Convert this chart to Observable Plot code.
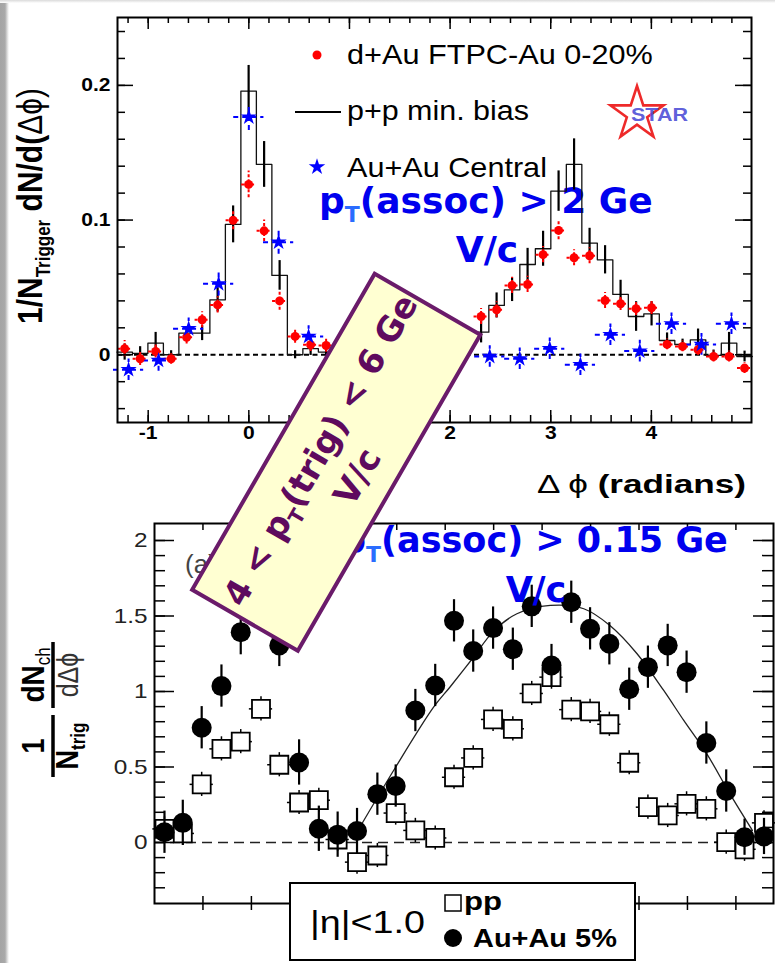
<!DOCTYPE html>
<html>
<head>
<meta charset="utf-8">
<script src="https://cdn.jsdelivr.net/npm/d3@7"></script>
<script src="https://cdn.jsdelivr.net/npm/@observablehq/plot@0.6"></script>
<style>
  html, body { margin: 0; padding: 0; background: #fff; overflow: hidden; }
  #page { position: relative; width: 775px; height: 963px; background: #fff; overflow: hidden; }
  #page > svg { position: absolute; left: 0; }
  .edge-left { position: absolute; left: 0; top: 0; width: 9px; height: 963px;
    background: linear-gradient(to right, #a4a4a4 0, #a9a9a9 5px, #d6d6d6 7px, #ffffff 9px); }
  .edge-top { position: absolute; left: 0; top: 0; width: 775px; height: 3px;
    background: linear-gradient(to bottom, #dadada, #ffffff); }
</style>
</head>
<body>
<div id="page"></div>
<script>
// ===== Upper panel: 4 < pT(trig) < 6 GeV/c, pT(assoc) > 2 GeV/c =====
// d+Au FTPC-Au 0-20% (red points)
const dAuPhi = [-1.234, -1.080, -0.926, -0.772, -0.618, -0.464, -0.310, -0.156, -0.002, 0.152, 0.306, 0.460, 0.614, 0.768,
  2.308, 2.462, 2.616, 2.770, 2.924, 3.078, 3.232, 3.386, 3.540, 3.694, 3.848, 4.002, 4.156, 4.310, 4.464, 4.618, 4.772, 4.926];
const dAuYield = [0.0045, -0.003, 0.0025, -0.003, 0.013, 0.026, 0.037, 0.0998, 0.1265, 0.092, 0.040, 0.0136, 0.0074, 0.0069,
  0.0284, 0.0334, 0.0515, 0.0522, 0.0743, 0.0923, 0.072, 0.0735, 0.0403, 0.0379, 0.0342, 0.0349, 0.0077, 0.0062, 0.0037, -0.0013, -0.0013, -0.0099];
const dAuErr = [0.006, 0.005, 0.005, 0.004, 0.005, 0.006, 0.006, 0.007, 0.010, 0.008, 0.007, 0.005, 0.005, 0.005,
  0.006, 0.006, 0.006, 0.006, 0.006, 0.007, 0.006, 0.006, 0.006, 0.005, 0.005, 0.005, 0.004, 0.004, 0.004, 0.004, 0.004, 0.004];

// Au+Au central (blue stars)
const auauPhi = [-1.195, -0.897, -0.598, -0.300, 0.000, 0.296, 0.594, 2.394, 2.692, 2.990, 3.295, 3.593, 3.885, 4.200, 4.498, 4.796];
const auauYield = [-0.0111, -0.0042, 0.0193, 0.0527, 0.1765, 0.0836, 0.0136, -0.0013, -0.003, 0.0045, -0.0074, 0.0149, 0.0027, 0.023, 0.0077, 0.023];
const auauErr = [0.008, 0.008, 0.008, 0.009, 0.010, 0.009, 0.008, 0.008, 0.008, 0.008, 0.008, 0.008, 0.008, 0.008, 0.008, 0.008];

// p+p min. bias histogram (bin edges, contents, errors) near side and away side
const ppNearEdges = [-1.311, -1.157, -1.003, -0.849, -0.695, -0.541, -0.387, -0.233, -0.079, 0.075, 0.229, 0.383, 0.537, 0.691, 0.845];
const ppNearLevels = [0.002, 0.001, 0.0086, 0.0, 0.016, 0.016, 0.0408, 0.0968, 0.1958, 0.1413, 0.0589, 0.0, 0.0045, 0.002];
const ppNearErr = [0.006, 0.005, 0.008, 0.003, 0.005, 0.0055, 0.009, 0.0137, 0.019, 0.017, 0.011, 0.003, 0.005, 0.004];
const ppAwayEdges = [2.231, 2.385, 2.539, 2.693, 2.847, 3.001, 3.155, 3.309, 3.463, 3.617, 3.771, 3.925, 4.079, 4.233, 4.387, 4.541, 4.695, 4.849, 5.003];
const ppAwayLevels = [0.0168, 0.0366, 0.0482, 0.067, 0.0787, 0.1215, 0.1413, 0.0829, 0.0705, 0.0448, 0.0284, 0.0304, 0.0106, 0.0076, 0.0111, -0.0005, 0.0086, -0.0013];
const ppAwayErr = [0.008, 0.0093, 0.0087, 0.012, 0.013, 0.015, 0.019, 0.011, 0.0105, 0.0105, 0.011, 0.009, 0.0056, 0.004, 0.008, 0.004, 0.008, 0.004];

const topXTicks = [-1, 0, 1, 2, 3, 4];
const topXTickLabels = ["-1", "0", "1", "2", "3", "4"];
const topYTicks = [0, 0.1, 0.2];
const topYTickLabels = ["0", "0.1", "0.2"];

// ===== Lower panel: pT(assoc) > 0.15 GeV/c, |eta| < 1.0 =====
const aaPhi = [-0.897, -0.708, -0.513, -0.309, -0.110, 0.288, 0.492, 0.696, 0.890, 1.090, 1.300, 1.489, 1.692, 1.897, 2.091, 2.289,
  2.494, 2.698, 2.893, 3.097, 3.301, 3.495, 3.694, 3.899, 4.092, 4.296, 4.491, 4.695, 4.900, 5.089, 5.290];
const aaYield = [0.068, 0.130, 0.760, 1.036, 1.393, 1.305, 0.530, 0.091, 0.052, 0.076, 0.320, 0.374, 0.874, 1.040, 1.468, 1.268,
  1.420, 1.280, 1.564, 1.172, 1.591, 1.415, 1.316, 1.015, 1.161, 1.305, 1.128, 0.659, 0.341, 0.035, 0.040];
const aaErr = [0.14, 0.15, 0.14, 0.14, 0.15, 0.14, 0.15, 0.15, 0.15, 0.15, 0.14, 0.14, 0.14, 0.14, 0.14, 0.14,
  0.14, 0.14, 0.14, 0.14, 0.14, 0.14, 0.14, 0.14, 0.14, 0.14, 0.14, 0.14, 0.14, 0.12, 0.12];

const ppPhi = [-0.897, -0.708, -0.513, -0.309, -0.110, 0.099, 0.288, 0.492, 0.696, 0.890, 1.090, 1.300, 1.489, 1.692, 1.897, 2.091,
  2.289, 2.494, 2.698, 2.893, 3.097, 3.301, 3.495, 3.694, 3.899, 4.092, 4.296, 4.491, 4.695, 4.900, 5.089, 5.290];
const ppYield = [0.09, 0.06, 0.385, 0.62, 0.668, 0.885, 0.515, 0.265, 0.28, 0.02, -0.13, -0.086, 0.195, 0.08, 0.03, 0.432,
  0.56, 0.815, 0.753, 0.987, 1.095, 0.88, 0.868, 0.783, 0.528, 0.234, 0.179, 0.256, 0.223, 0.002, -0.045, 0.13];
const ppErrY = 0.08, ppErrX = 0.12;

// away-side fit curve
const fitPhi = [1.10, 1.48, 1.88, 2.05, 2.28, 2.50, 2.74, 3.085, 3.43, 3.70, 3.98, 4.255, 4.46, 4.70, 4.94, 5.17];
const fitYield = [0.08, 0.49, 0.896, 1.03, 1.217, 1.40, 1.515, 1.57, 1.548, 1.437, 1.25, 1.007, 0.81, 0.587, 0.32, 0.08];

const lowXTicks = [-0.5, 0, 0.5, 1, 1.5, 2, 2.5, 3, 3.5, 4, 4.5, 5];
const lowYTicks = [0, 0.5, 1, 1.5, 2];
const lowYTickLabels = ["0", "0.5", "1", "1.5", "2"];

// ===== helpers =====
const FONT = "'Liberation Sans', Arial, Helvetica, sans-serif";
const OVF = "'DejaVu Sans', 'Liberation Sans', sans-serif";

function stepPoints(edges, levels) {
  return edges.map((x, i) => ({x, y: levels[Math.min(i, levels.length - 1)]}));
}
function binCentres(edges, levels, errs) {
  return levels.map((y, i) => ({x: (edges[i] + edges[i + 1]) / 2, y, e: errs[i]}));
}
function ticksX(vals, len, side, FH, extra = {}) {
  return Plot.tickX(vals, {x: d => d, stroke: "#000", strokeWidth: 1.5,
    insetTop: side === "bottom" ? FH - len : 0, insetBottom: side === "top" ? FH - len : 0, ...extra});
}
function ticksY(vals, len, side, FW) {
  return Plot.tickY(vals, {y: d => d, stroke: "#000", strokeWidth: 1.5,
    insetRight: side === "left" ? FW - len : 0, insetLeft: side === "right" ? FW - len : 0});
}
// the whole figure is drawn a little wider than the font's natural proportions
function widenPlotText(svg, sx) {
  svg.querySelectorAll("text").forEach(t => {
    let tr = t.getAttribute("transform");
    if (!tr) {
      const x = +(t.getAttribute("x") || 0), y = +(t.getAttribute("y") || 0);
      t.removeAttribute("x"); t.removeAttribute("y");
      tr = `translate(${x},${y})`;
    }
    if (!/rotate/.test(tr)) t.setAttribute("transform", `${tr} scale(${sx},1)`);
  });
}
function fitWidth(sel, target) {
  const len = sel.node().getComputedTextLength();
  const x = +sel.attr("x"), y = +sel.attr("y");
  sel.attr("x", null).attr("y", null).attr("transform", `translate(${x},${y}) scale(${target / len},1)`);
}

const page = document.getElementById("page");

// ===== upper panel =====
const TW = 775, TH = 500, tm = {l: 117, r: 24, t: 17, b: 78};
const tFW = TW - tm.l - tm.r, tFH = TH - tm.t - tm.b;

const dAu = dAuPhi.map((x, i) => ({x, y: dAuYield[i], e: dAuErr[i]}));
const auau = auauPhi.map((x, i) => ({x, y: auauYield[i], e: auauErr[i]}));
const ppBins = [...binCentres(ppNearEdges, ppNearLevels, ppNearErr), ...binCentres(ppAwayEdges, ppAwayLevels, ppAwayErr)];

const topPlot = Plot.plot({
  width: TW, height: TH,
  marginLeft: tm.l, marginRight: tm.r, marginTop: tm.t, marginBottom: tm.b,
  x: {domain: [-1.305, 4.995], axis: null},
  y: {domain: [-0.0503, 0.2504], axis: null},
  style: {fontFamily: FONT, background: "transparent", overflow: "visible"},
  marks: [
    Plot.ruleY([0], {stroke: "#000", strokeWidth: 2, strokeDasharray: "5,3.5"}),
    Plot.line(stepPoints(ppNearEdges, ppNearLevels), {x: "x", y: "y", curve: "step-after", stroke: "#111", strokeWidth: 1.3}),
    Plot.line(stepPoints(ppAwayEdges, ppAwayLevels), {x: "x", y: "y", curve: "step-after", stroke: "#111", strokeWidth: 1.3}),
    Plot.ruleX(ppBins, {x: "x", y1: d => d.y - d.e, y2: d => d.y + d.e, stroke: "#000", strokeWidth: 2.2}),
    Plot.ruleX(dAu, {x: "x", y1: d => d.y - d.e, y2: d => d.y + d.e, stroke: "#f00", strokeWidth: 2, strokeDasharray: "3,2"}),
    Plot.ruleY(dAu, {y: "y", x1: d => d.x - 0.07, x2: d => d.x + 0.07, stroke: "#f00", strokeWidth: 2, strokeDasharray: "3,2"}),
    Plot.ruleX(auau, {x: "x", y1: d => d.y - d.e, y2: d => d.y + d.e, stroke: "#00f", strokeWidth: 2, strokeDasharray: "5,4"}),
    Plot.ruleY(auau, {y: "y", x1: d => d.x - 0.15, x2: d => d.x + 0.15, stroke: "#00f", strokeWidth: 2, strokeDasharray: "5,4"}),
    Plot.dot(dAu, {x: "x", y: "y", r: 4.5, fill: "#f00"}),
    Plot.dot(auau, {x: "x", y: "y", symbol: "star", r: 5.1, fill: "#00f"}),
    Plot.frame({stroke: "#000", strokeWidth: 2}),
    ticksX(topXTicks, 12, "bottom", tFH),
    ticksX(d3.range(-1.2, 4.9, 0.2), 7, "bottom", tFH),
    ticksX(topXTicks, 12, "top", tFH),
    ticksX(d3.range(-1.2, 4.9, 0.2), 6, "top", tFH),
    ticksY(topYTicks, 16, "left", tFW),
    ticksY(d3.range(-0.04, 0.25, 0.02), 8, "left", tFW),
    ticksY(topYTicks, 16, "right", tFW),
    ticksY(d3.range(-0.04, 0.25, 0.02), 8, "right", tFW),
    Plot.text(topXTicks, {x: d => d, text: (d, i) => topXTickLabels[i], frameAnchor: "bottom", dy: 16,
      fontSize: 18, fontWeight: "bold", fill: "#000"}),
    Plot.text(topYTicks, {y: d => d, text: (d, i) => topYTickLabels[i], frameAnchor: "left", dx: -7, textAnchor: "end",
      fontSize: 18, fontWeight: "bold", fill: "#000"})
  ]
});
widenPlotText(topPlot, 1.17);
topPlot.style.top = "0px";
page.appendChild(topPlot);

const ts = d3.select(topPlot);
// cut label drawn beneath the data marks
const cutTop = ts.insert("g", "g").attr("font-family", OVF).attr("font-weight", "bold").attr("fill", "#0000ee")
  .attr("text-anchor", "start");
const c1 = cutTop.append("text").attr("x", 319).attr("y", 213).attr("font-size", 36);
c1.append("tspan").text("p");
c1.append("tspan").attr("dy", 9).attr("font-size", 22).attr("fill", "#2a6cff").text("T");
c1.append("tspan").attr("dy", -9).text("(assoc) > 2 Ge");
cutTop.append("text").attr("x", 487).attr("y", 262).attr("text-anchor", "middle").attr("font-size", 36).text("V/c");

// legend
const lg = ts.append("g").attr("font-family", FONT).attr("font-size", 27).attr("fill", "#000").attr("text-anchor", "start");
lg.append("circle").attr("cx", 317).attr("cy", 55).attr("r", 4.5).attr("fill", "#f00");
const lt1 = lg.append("text").attr("x", 347).attr("y", 64).text("d+Au FTPC-Au 0-20%");
lg.append("line").attr("x1", 295).attr("x2", 341).attr("y1", 112).attr("y2", 112).attr("stroke", "#000").attr("stroke-width", 2);
const lt2 = lg.append("text").attr("x", 347).attr("y", 120).text("p+p min. bias");
lg.append("path").attr("d", d3.symbol(d3.symbolStar, 85)()).attr("transform", "translate(317,167)").attr("fill", "#00f");
const lt3 = lg.append("text").attr("x", 347).attr("y", 177).text("Au+Au Central");
fitWidth(lt1, 306); fitWidth(lt2, 182); fitWidth(lt3, 200);

// STAR logo
ts.append("path").attr("d", d3.symbol(d3.symbolStar, 880)()).attr("transform", "translate(637,114)")
  .attr("fill", "none").attr("stroke", "#ee2a2a").attr("stroke-width", 2.6).attr("stroke-linejoin", "miter");
const star = ts.append("text").attr("x", 631).attr("y", 121).attr("text-anchor", "start").attr("font-family", FONT)
  .attr("font-weight", "bold").attr("font-size", 19).attr("fill", "#4b4bd6").attr("fill-opacity", 0.9).text("STAR");
fitWidth(star, 57);

// axis titles
const xt = ts.append("text").attr("x", 537).attr("y", 493).attr("text-anchor", "start").attr("font-family", FONT)
  .attr("font-size", 25).attr("fill", "#000");
xt.append("tspan").text("\u0394 \u03d5 ");
xt.append("tspan").attr("font-weight", "bold").text("(radians)");
fitWidth(xt, 209);

const yt = ts.append("text").attr("transform", "translate(42,206) rotate(-90) scale(1,1.15)")
  .attr("text-anchor", "middle").attr("font-family", FONT).attr("font-weight", "bold").attr("font-size", 30).attr("fill", "#000");
yt.append("tspan").text("1/N");
yt.append("tspan").attr("dy", 7).attr("font-size", 17).text("Trigger");
yt.append("tspan").attr("dy", -7).text(" dN/d(");
yt.append("tspan").attr("font-weight", "normal").text("\u0394\u03d5)");

// ===== lower panel =====
const BW = 775, BH = 463, bm = {l: 154, r: 2, t: 23, b: 60};
const bFW = BW - bm.l - bm.r, bFH = BH - bm.t - bm.b;

const aa = aaPhi.map((x, i) => ({x, y: aaYield[i], e: aaErr[i]}));
const pp = ppPhi.map((x, i) => ({x, y: ppYield[i]}));
const fit = fitPhi.map((x, i) => ({x, y: fitYield[i]}));

const lowPlot = Plot.plot({
  width: BW, height: BH,
  marginLeft: bm.l, marginRight: bm.r, marginTop: bm.t, marginBottom: bm.b,
  x: {domain: [-1.0, 5.388], axis: null},
  y: {domain: [-0.404, 2.1126], axis: null},
  style: {fontFamily: FONT, background: "transparent", overflow: "visible"},
  marks: [
    Plot.ruleY([0], {stroke: "#222", strokeWidth: 1.6, strokeDasharray: "10,6"}),
    Plot.line(fit, {x: "x", y: "y", curve: "catmull-rom", stroke: "#222", strokeWidth: 1.3}),
    Plot.ruleX(pp, {x: "x", y1: d => d.y - ppErrY, y2: d => d.y + ppErrY, stroke: "#000", strokeWidth: 1.5}),
    Plot.ruleY(pp, {y: "y", x1: d => d.x - ppErrX, x2: d => d.x + ppErrX, stroke: "#000", strokeWidth: 1.5}),
    Plot.dot(pp, {x: "x", y: "y", symbol: "square", r: 10.16, fill: "#fff", stroke: "#000", strokeWidth: 1.8}),
    Plot.ruleX(aa, {x: "x", y1: d => d.y - d.e, y2: d => d.y + d.e, stroke: "#000", strokeWidth: 2.2}),
    Plot.dot(aa, {x: "x", y: "y", r: 10, fill: "#000"}),
    Plot.frame({stroke: "#000", strokeWidth: 2}),
    ticksX(lowXTicks, 7, "bottom", bFH, {insetBottom: -7}),
    ticksX(lowXTicks, 7, "top", bFH),
    ticksY(lowYTicks, 20, "left", bFW),
    ticksY(d3.range(-0.3, 2.05, 0.1), 11, "left", bFW),
    ticksY(lowYTicks, 20, "right", bFW),
    ticksY(d3.range(-0.3, 2.05, 0.1), 11, "right", bFW),
    Plot.text(lowYTicks, {y: d => d, text: (d, i) => lowYTickLabels[i], frameAnchor: "left", dx: -7, textAnchor: "end",
      fontSize: 21, fill: "#222"})
  ]
});
widenPlotText(lowPlot, 1.16);
lowPlot.style.top = "500px";
page.appendChild(lowPlot);

const ls = d3.select(lowPlot);
ls.append("text").attr("x", 185).attr("y", 73).attr("text-anchor", "start").attr("font-family", FONT)
  .attr("font-size", 26).attr("fill", "#444").text("(a)");

// y-axis title: (1/N_trig) dN_ch/d(delta phi)
const yl = ls.append("g").attr("transform", "translate(53,210) rotate(-90)").attr("font-family", FONT).attr("fill", "#000");
yl.append("line").attr("x1", -67).attr("x2", -5).attr("y1", 0).attr("y2", 0).attr("stroke", "#000").attr("stroke-width", 3.5);
yl.append("line").attr("x1", 2).attr("x2", 68).attr("y1", 0).attr("y2", 0).attr("stroke", "#000").attr("stroke-width", 3.5);
yl.append("text").attr("transform", "translate(-36,-9) scale(1,1.15)").attr("text-anchor", "middle")
  .attr("font-weight", "bold").attr("font-size", 27).text("1");
const yN = yl.append("text").attr("transform", "translate(-36,25) scale(1,1.15)").attr("text-anchor", "middle")
  .attr("font-weight", "bold").attr("font-size", 27);
yN.append("tspan").text("N");
yN.append("tspan").attr("dy", 6).attr("font-size", 17).text("trig");
const yd = yl.append("text").attr("transform", "translate(35,-9) scale(1,1.15)").attr("text-anchor", "middle")
  .attr("font-weight", "bold").attr("font-size", 28);
yd.append("tspan").text("dN");
yd.append("tspan").attr("dy", 5).attr("font-size", 17).attr("font-weight", "normal").text("ch");
yl.append("text").attr("transform", "translate(35,25) scale(1,1.15)").attr("text-anchor", "middle")
  .attr("font-size", 25).attr("fill", "#333").text("d\u0394\u03d5");

// legend box
const lb = ls.append("g").attr("font-family", FONT).attr("fill", "#000").attr("text-anchor", "start");
lb.append("rect").attr("x", 290).attr("y", 383).attr("width", 345).attr("height", 77)
  .attr("fill", "#fff").attr("stroke", "#000").attr("stroke-width", 2);
const eta = lb.append("text").attr("x", 310).attr("y", 433).attr("font-size", 32).text("|\u03b7|<1.0");
fitWidth(eta, 115);
lb.append("rect").attr("x", 445).attr("y", 395).attr("width", 16).attr("height", 16).attr("fill", "#fff").attr("stroke", "#000").attr("stroke-width", 1.5);
const lpp = lb.append("text").attr("x", 464).attr("y", 410).attr("font-size", 26).attr("font-weight", "bold").text("pp");
fitWidth(lpp, 38);
lb.append("circle").attr("cx", 453).attr("cy", 438).attr("r", 9).attr("fill", "#000");
const laa = lb.append("text").attr("x", 473).attr("y", 447).attr("font-size", 26).attr("font-weight", "bold").text("Au+Au 5%");
fitWidth(laa, 144);

// ===== annotations laid over both panels =====
const ov = d3.select(page).append("svg").attr("width", 775).attr("height", 963)
  .style("top", "0px").style("pointer-events", "none");

const cutLow = ov.append("g").attr("font-family", OVF).attr("font-weight", "bold").attr("fill", "#0000ee");
const c2 = cutLow.append("text").attr("x", 341).attr("y", 552).attr("font-size", 35);
c2.append("tspan").text("p");
c2.append("tspan").attr("dy", 10).attr("font-size", 22).attr("fill", "#2a6cff").text("T");
c2.append("tspan").attr("dy", -10).text("(assoc) > 0.15 Ge");
cutLow.append("text").attr("x", 536).attr("y", 602).attr("text-anchor", "middle").attr("font-size", 35).text("V/c");

const trig = ov.append("g").attr("transform", "translate(336.25,462.25) rotate(-60)");
trig.append("rect").attr("x", -182.5).attr("y", -61).attr("width", 365).attr("height", 122)
  .attr("fill", "#ffffd2").attr("stroke", "#6a1b6a").attr("stroke-width", 4);
const tl = trig.append("text").attr("x", -173.5).attr("y", -8).attr("font-family", OVF).attr("font-weight", "bold")
  .attr("font-size", 34).attr("fill", "#5e0a5e");
tl.append("tspan").text("4 < p");
tl.append("tspan").attr("dy", 8).attr("font-size", 20).text("T");
tl.append("tspan").attr("dy", -8).text("(trig) < 6 Ge");
trig.append("text").attr("x", -2).attr("y", 37).attr("text-anchor", "middle").attr("font-family", OVF)
  .attr("font-weight", "bold").attr("font-size", 34).attr("fill", "#5e0a5e").text("V/c");

// page edge shading
const el = document.createElement("div"); el.className = "edge-left"; page.appendChild(el);
const et = document.createElement("div"); et.className = "edge-top"; page.appendChild(et);
</script>
</body>
</html>
